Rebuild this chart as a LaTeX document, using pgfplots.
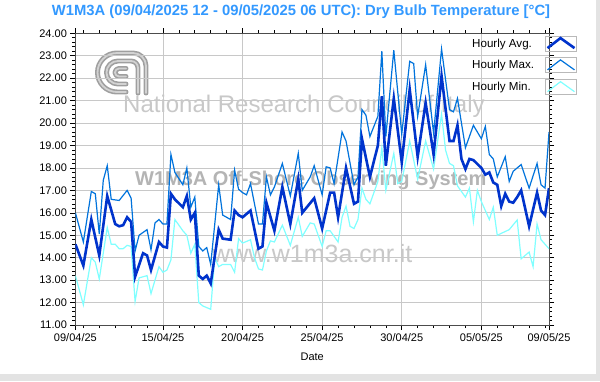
\documentclass[border=0pt]{standalone}
\usepackage{fontspec}
\setmainfont{Liberation Sans}
\usepackage{pgfplots}
\pgfplotsset{compat=1.18}
\definecolor{avgc}{RGB}{0,51,204}
\definecolor{maxc}{RGB}{0,115,220}
\definecolor{minc}{RGB}{128,255,255}
\definecolor{titlec}{RGB}{51,153,255}
\definecolor{wm}{RGB}{200,200,200}
\definecolor{gridc}{RGB}{200,200,200}
\begin{document}
\begin{tikzpicture}[x=1bp,y=1bp]
\path[use as bounding box] (0,0) rectangle (600,381);
\fill[white] (0,0) rectangle (600,381);
\fill[gray!22] (0,0) rectangle (600,7);
\fill[gray!22] (596,0) rectangle (600,381);
% watermark texts
\node[wm, inner sep=0, font=\fontsize{24bp}{28bp}\selectfont, anchor=base west] at (123,269) {National Research Council of Italy};
\node[wm!90!black, inner sep=0, font=\bfseries\fontsize{20bp}{24bp}\selectfont, anchor=base west] at (135,196) {W1M3A Off-Shore Observing System};
\node[wm, inner sep=0, font=\fontsize{25bp}{30bp}\selectfont, anchor=base west] at (212,119) {www.w1m3a.cnr.it};
% logo
\begin{scope}[line cap=round, line join=round]
\foreach \c/\w in {gray!75/5, gray!35/1.8}{
\draw[\c, line width=\w] (146,288) -- (146,315) arc[start angle=0, end angle=90, radius=13] -- (117,328) arc[start angle=90, end angle=270, radius=19.5] -- (126,289);
\draw[\c, line width=\w] (138,288) -- (138,313) arc[start angle=0, end angle=90, radius=7] -- (118,320) arc[start angle=90, end angle=270, radius=11.5] -- (126,297);
\draw[\c, line width=\w] (126,312.5) -- (119,312.5) arc[start angle=90, end angle=270, radius=4] -- (126,304.5);
}
\end{scope}
\begin{axis}[
  at={(75.4bp,56bp)}, anchor=south west,
  scale only axis, width=473.6bp, height=291.7bp,
  xmin=0.5, xmax=30.25, ymin=11, ymax=24,
  axis line style={black!70, line width=0.6bp},
  xtick={0.5,6,11,16,21,26,30.25},
  xticklabels={09/04/25,15/04/25,20/04/25,25/04/25,30/04/25,05/05/25,09/05/25},
  minor xtick={1,2,...,30},
  ytick={11,12,...,24}, minor y tick num=4,
  tick align=outside,
  major tick length=5bp, minor tick length=3bp,
  tick style={black, line width=0.6bp},
  xmajorgrids, ymajorgrids, grid style={gridc, line width=0.8bp},
  /pgf/number format/assume math mode=true,
  yticklabel style={/pgf/number format/.cd, fixed, fixed zerofill, precision=2},
  ticklabel style={font=\fontsize{11bp}{13bp}\selectfont},
  xlabel={Date},
  xlabel style={font=\fontsize{11bp}{13bp}\selectfont, at={(axis description cs:0.5,-0.1097)}, anchor=center},
  reverse legend,
  legend plot pos=right,
  legend cell align=left,
  legend style={at={(0.8332,0.9925)}, anchor=north west, draw=none, fill=none,
    inner sep=0pt, row sep=6bp, column sep=9bp,
    font=\fontsize{11.6bp}{13bp}\selectfont,
    nodes={inner sep=2bp}},
  legend image code/.code={
    \draw[gray!55, line width=0.8bp, solid] (0bp,-7.5bp) rectangle (31bp,7.5bp);
    \draw[#1] (2bp,-4.5bp) -- (15bp,5.5bp) -- (29bp,-4.5bp);
  },
]
\addplot[minc, line width=1.2bp] coordinates {
(0.5,13.2)(1,11.9)(1.5,14.0)(1.75,13.8)(2,13.05)(2.5,15.35)(2.75,14.6)(3,14.6)(3.25,14.4)(3.5,14.4)(3.75,14.55)(4,14.5)(4.25,12.05)(4.5,13.1)(5,13.2)(5.25,12.4)(5.75,13.6)(6,13.35)(6.25,13.45)(6.5,13.9)(6.75,15.7)(7.25,15.2)(7.5,15.0)(7.75,14.2)(8,14.6)(8.25,12.0)(8.5,11.85)(9,11.7)(9.25,14.0)(9.5,13.6)(9.75,13.7)(10.25,13.7)(10.5,13.35)(10.75,14.85)(11,14.65)(11.5,14.8)(11.75,14.0)(12,13.5)(12.25,13.45)(12.5,14.3)(12.75,14.75)(13,14.7)(13.5,15.45)(14,14.55)(14.5,15.8)(14.75,14.95)(15.25,15.55)(15.5,15.5)(16,14.5)(16.25,15.2)(16.5,15.2)(17,14.7)(17.25,15.8)(17.5,16.3)(17.75,15.4)(18,15.3)(18.25,15.7)(18.5,17.1)(18.75,16.6)(19,16.4)(19.5,17.4)(19.75,18.9)(20,17.0)(20.5,18.65)(20.75,17.3)(21,17.4)(21.5,19.2)(22,17.5)(22.5,19.2)(23,17.95)(23.5,20.4)(23.75,18.8)(24,18.2)(24.25,18.1)(24.5,17.2)(25,16.7)(25.25,17.1)(25.5,15.6)(25.75,17.0)(26,16.5)(26.5,15.7)(26.75,16.25)(27,15.0)(27.75,15.25)(28.25,15.68)(28.5,13.95)(28.75,14.1)(29,14.25)(29.25,13.6)(29.5,15.5)(29.75,14.8)(30,14.6)(30.25,14.4)
};
\addlegendentry{Hourly Min.}
\addplot[maxc, line width=1.2bp] coordinates {
(0.5,16.0)(1,14.7)(1.5,16.95)(1.75,16.85)(2,15.05)(2.25,17.45)(2.5,18.1)(2.75,16.6)(3.25,16.55)(3.75,17.0)(4,16.65)(4.25,14.3)(4.5,15.0)(5,15.25)(5.25,14.35)(5.5,15.55)(5.75,15.7)(6,15.5)(6.25,15.5)(6.5,18.6)(6.75,17.8)(7.25,17.25)(7.5,18.0)(7.75,16.25)(8,16.7)(8.25,14.5)(8.5,14.3)(8.75,14.45)(9,13.7)(9.5,17.25)(9.75,15.9)(10.25,15.7)(10.5,17.9)(10.75,17.05)(11,16.9)(11.25,16.8)(11.5,17.3)(11.75,16.4)(12,15.5)(12.25,15.5)(12.5,17.6)(12.75,16.8)(13,17.15)(13.5,18.2)(14,16.75)(14.5,18.65)(14.75,17.0)(15.25,17.6)(15.5,18.1)(16,16.8)(16.25,18.05)(16.5,18.0)(16.75,17.3)(17.25,19.6)(17.5,19.2)(18,17.25)(18.25,17.6)(18.5,20.6)(18.75,20.35)(19,19.4)(19.5,20.3)(19.75,23.2)(20,19.4)(20.5,23.25)(21,19.5)(21.5,22.75)(21.75,22.65)(22,20.3)(22.5,22.6)(23,19.55)(23.5,23.3)(24,20.6)(24.25,20.5)(24.5,21.1)(25,18.9)(25.5,19.9)(26,19.3)(26.25,19.85)(26.5,18.6)(26.75,18.4)(27,17.6)(27.5,18.5)(27.75,17.4)(28,17.85)(28.5,18.15)(29,17.1)(29.5,18.2)(29.75,17.25)(30,17.1)(30.25,19.6)
};
\addlegendentry{Hourly Max.}
\addplot[avgc, line width=2.6bp] coordinates {
(0.5,14.6)(1,13.65)(1.5,15.7)(2,14.1)(2.5,16.75)(3,15.5)(3.25,15.4)(3.5,15.45)(3.75,15.8)(4,15.6)(4.25,13.15)(4.75,14.2)(5,14.1)(5.25,13.45)(5.75,14.7)(6,14.5)(6.25,14.45)(6.5,16.85)(6.75,16.6)(7.25,16.25)(7.5,16.75)(7.75,15.7)(8,16.0)(8.25,13.2)(8.5,13.05)(8.75,13.2)(9,12.85)(9.5,15.25)(9.75,14.85)(10.25,14.8)(10.5,16.1)(10.75,15.9)(11,15.8)(11.5,16.1)(12,14.4)(12.25,14.5)(12.5,16.45)(13,15.2)(13.5,17.15)(14,15.5)(14.5,17.5)(14.75,16.0)(15.5,16.65)(16,15.3)(16.5,16.9)(16.75,16.9)(17,15.8)(17.5,18.0)(18,16.4)(18.25,16.5)(18.5,19.3)(19,17.6)(19.5,19.0)(19.75,21.2)(20,18.1)(20.5,21.1)(21,18.25)(21.5,21.5)(22,18.5)(22.5,20.9)(23,18.6)(23.5,22.1)(24,19.2)(24.25,19.2)(24.5,19.9)(24.75,18.4)(25,17.95)(25.25,18.4)(25.5,18.35)(26,18.0)(26.25,17.7)(26.5,17.8)(26.75,17.35)(27,17.25)(27.25,16.3)(27.5,16.85)(27.75,16.5)(28,16.45)(28.25,16.7)(28.5,17.0)(29,15.4)(29.5,16.9)(29.75,16.1)(30,15.9)(30.25,17.1)
};
\addlegendentry{Hourly Avg.}
\end{axis}
\node[titlec, font=\bfseries\fontsize{14.8bp}{17bp}\selectfont] at (301,369) {W1M3A (09/04/2025 12 - 09/05/2025 06 UTC): Dry Bulb Temperature [°C]};
\end{tikzpicture}
\end{document}
